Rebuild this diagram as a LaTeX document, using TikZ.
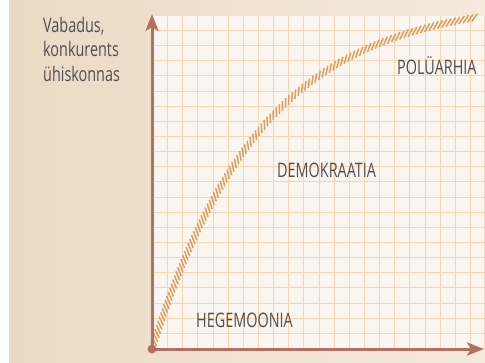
\documentclass[tikz,border=0pt]{standalone}
\usepackage{fontspec}
\setmainfont{Open Sans}[FakeStretch=0.72]
\usetikzlibrary{arrows.meta}
\definecolor{bgL}{RGB}{234,218,196}
\definecolor{bgR}{RGB}{244,234,221}
\definecolor{paper}{RGB}{250,245,238}
\definecolor{gridc}{RGB}{243,214,180}
\definecolor{axisc}{RGB}{176,113,96}
\definecolor{hatchc}{RGB}{218,158,90}
\definecolor{txt}{RGB}{80,80,80}
\tikzset{
  lbl/.style={font=\fontsize{20}{24.5}\selectfont, text=txt, inner sep=0pt},
  axisline/.style={draw=axisc, line width=3pt, -{Stealth[length=17pt,width=13pt,inset=4pt]}},
  gridline/.style={draw=gridc, line width=1.3pt},
  hatchstroke/.style={draw=hatchc, line width=1.5pt}
}
\begin{document}
\begin{tikzpicture}[x=1pt,y=-1pt]
\useasboundingbox (0,0) rectangle (485,362);
\fill[white] (0,0) rectangle (485,362);
\shade[left color=bgL,right color=bgR] (9,0) rectangle (485,362);
\fill[paper] (152,16) rectangle (485,349);
\foreach \i in {1,...,21} {
  \draw[gridline] ({152.5+round(\i*15.14)},16) -- ({152.5+round(\i*15.14)},349);
  \draw[gridline] (152,{348.5-round(\i*15.14)}) -- (485,{348.5-round(\i*15.14)});
}
\draw[gridline] (484.5,16) -- (484.5,349);
% hatched curve
\def\hX{1}
\loop
  \pgfmathsetmacro\hphi{atan(3.1818*exp(-\hX/110))}
  \pgfmathsetmacro\hang{\hphi+45}
  \pgfmathsetmacro\hpx{152+\hX}
  \pgfmathsetmacro\hpy{349-350*(1-exp(-\hX/110))}
  \draw[hatchstroke] ({\hpx-4.8*cos(\hang)},{\hpy+4.8*sin(\hang)}) -- ({\hpx+4.8*cos(\hang)},{\hpy-4.8*sin(\hang)});
  \pgfmathsetmacro\hX{\hX+4.4*cos(\hphi)}
\ifdim\hX pt<324pt\repeat
\coordinate (O) at (152,349);
\coordinate (ytip) at (152,14);
\coordinate (xtip) at (484,349);
\draw[axisline] (O) -- (ytip);
\draw[axisline] (O) -- (xtip);
\node[circle, fill=axisc, minimum size=9pt, inner sep=0pt] (dot) at (O) {};
\node[lbl, anchor=north west, align=left] (ylabel) at (43,17) {Vabadus,\\konkurents\\ühiskonnas};
\node[lbl, anchor=base west] (heg) at (196,327) {HEGEMOONIA};
\node[lbl, anchor=base west] (dem) at (277,177) {DEMOKRAATIA};
\node[lbl, anchor=base west] (pol) at (397,74) {POLÜARHIA};
\end{tikzpicture}
\end{document}
